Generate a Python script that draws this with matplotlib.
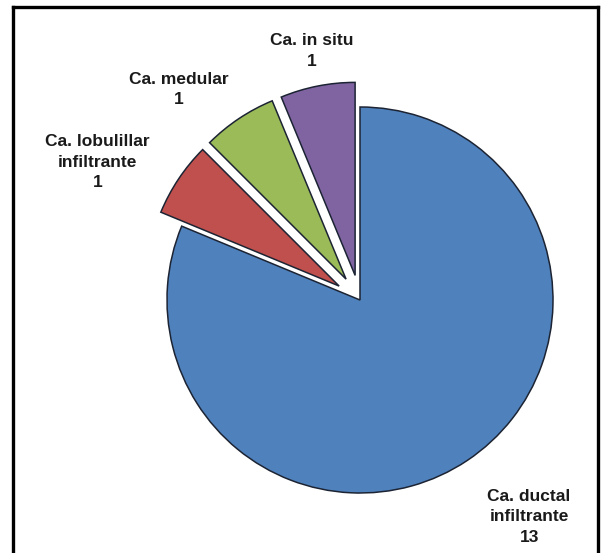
import matplotlib
matplotlib.use("Agg")
import matplotlib.pyplot as plt
from matplotlib.lines import Line2D
import numpy as np

categories = ["Ca. ductal\ninfiltrante", "Ca. lobulillar\ninfiltrante", "Ca. medular", "Ca. in situ"]
values = [13, 1, 1, 1]
colors = ["#4F81BD", "#C0504D", "#9BBB59", "#8064A2"]
explode = [0, 0.13, 0.13, 0.13]
# label positions in radius units relative to pie center
label_pos = [(0.876, -1.124), (-1.36, 0.715), (-0.94, 1.09), (-0.25, 1.29)]

plt.rcParams['font.family'] = ['Liberation Sans', 'DejaVu Sans']

W, H = 603, 553
fig = plt.figure(figsize=(W / 100, H / 100), dpi=100)
ax = fig.add_axes([0, 0, 1, 1])

R = 193.0
cx, cy = 360.0, 300.0  # pixel center (from top)

ax.pie(values, colors=colors, explode=explode, startangle=90, counterclock=False,
       radius=1.0, wedgeprops=dict(edgecolor="#1c2433", linewidth=1.1))

ax.set_xlim(-cx / R, (W - cx) / R)
ax.set_ylim(-(H - cy) / R, cy / R)
ax.set_aspect('equal', adjustable='box')
ax.axis('off')

for cat, v, (lx, ly) in zip(categories, values, label_pos):
    ax.text(lx, ly, f"{cat}\n{v}", ha='center', va='center', fontsize=12.5,
            fontweight='bold', color='#1a1a1a', linespacing=1.45)

# outer frame
lw = 2.4
def fx(p): return p / W
def fy(p): return 1 - p / H
fig.add_artist(Line2D([fx(13), fx(13)], [fy(7), fy(H + 5)], color='black', lw=lw, transform=fig.transFigure))
fig.add_artist(Line2D([fx(13), fx(598)], [fy(7), fy(7)], color='black', lw=lw, transform=fig.transFigure))
fig.add_artist(Line2D([fx(598), fx(598)], [fy(7), fy(H + 5)], color='black', lw=lw, transform=fig.transFigure))

fig.savefig("out.png", dpi=100, facecolor='white')
